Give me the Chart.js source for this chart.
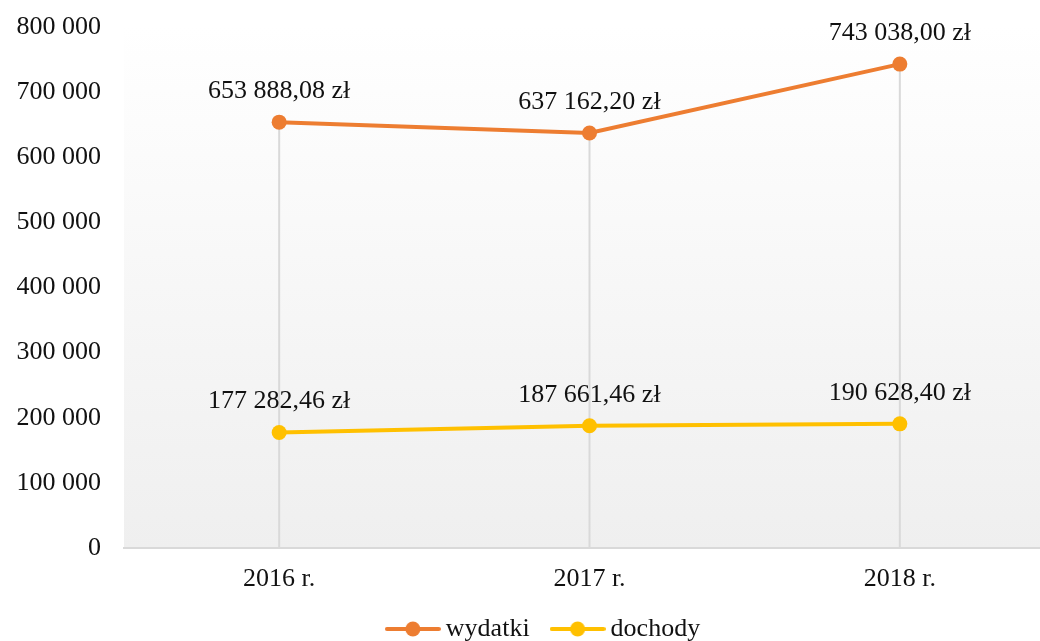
<!DOCTYPE html>
<html>
<head>
<meta charset="utf-8">
<script src="https://cdn.jsdelivr.net/npm/chart.js@4/dist/chart.umd.min.js"></script>
<style>
    html, body { margin: 0; padding: 0; overflow: hidden; background: #fff; }
    #wrap { width: 1086px; height: 652px; }
</style>
</head>
<body>
<div id="wrap"><canvas id="lineChart" width="1086" height="652"></canvas></div>
<script>
const years = ['2016 r.', '2017 r.', '2018 r.'];
const wydatki = [653888.08, 637162.20, 743038.00];
const dochody = [177282.46, 187661.46, 190628.40];
const yTicks = [0, 100000, 200000, 300000, 400000, 500000, 600000, 700000, 800000];

const orange = '#ED7D31';
const yellow = '#FFC000';
const fontFamily = "'Liberation Serif', 'Times New Roman', serif";

function groupThousands(n) {
    return String(n).replace(/\B(?=(\d{3})+(?!\d))/g, ' ');
}

function formatZl(v) {
    const parts = v.toFixed(2).split('.');
    return groupThousands(parts[0]) + ',' + parts[1] + ' zł';
}

// legend marker: short line with a dot in the middle
function legendMarker(color) {
    const c = document.createElement('canvas');
    c.width = 56;
    c.height = 18;
    const g = c.getContext('2d');
    g.strokeStyle = color;
    g.lineWidth = 4;
    g.lineCap = 'round';
    g.beginPath();
    g.moveTo(2, 9);
    g.lineTo(54, 9);
    g.stroke();
    g.fillStyle = color;
    g.beginPath();
    g.arc(28, 9, 7.5, 0, Math.PI * 2);
    g.fill();
    return c;
}

const markers = [legendMarker(orange), legendMarker(yellow)];

const plotBackground = {
    id: 'plotBackground',
    beforeDraw(chart) {
        const { ctx, chartArea } = chart;
        const grad = ctx.createLinearGradient(0, chartArea.top, 0, chartArea.bottom);
        grad.addColorStop(0, '#ffffff');
        grad.addColorStop(0.12, '#fdfdfd');
        grad.addColorStop(1, '#efefef');
        ctx.save();
        ctx.fillStyle = grad;
        ctx.fillRect(chartArea.left, chartArea.top, chartArea.right - chartArea.left, chartArea.bottom - chartArea.top);
        ctx.restore();
    }
};

// the legend sits a bit right of the canvas centre in the original
const legendShift = {
    id: 'legendShift',
    afterLayout(chart) {
        chart.legend.left += 19;
        chart.legend.right += 19;
    }
};

// drop lines from the highest point of each category down to the axis
const dropLines = {
    id: 'dropLines',
    beforeDatasetsDraw(chart) {
        const { ctx, scales } = chart;
        ctx.save();
        ctx.strokeStyle = '#d9d9d9';
        ctx.lineWidth = 2;
        years.forEach((y, i) => {
            const top = Math.max(wydatki[i], dochody[i]);
            const x = scales.x.getPixelForValue(i);
            ctx.beginPath();
            ctx.moveTo(x, scales.y.getPixelForValue(top));
            ctx.lineTo(x, scales.y.getPixelForValue(0));
            ctx.stroke();
        });
        ctx.restore();
    }
};

const valueLabels = {
    id: 'valueLabels',
    afterDatasetsDraw(chart) {
        const ctx = chart.ctx;
        ctx.save();
        ctx.font = '26px ' + fontFamily;
        ctx.fillStyle = '#111111';
        ctx.textAlign = 'center';
        ctx.textBaseline = 'middle';
        chart.data.datasets.forEach((ds, i) => {
            chart.getDatasetMeta(i).data.forEach((pt, j) => {
                ctx.fillText(formatZl(ds.data[j]), pt.x, pt.y - 31);
            });
        });
        ctx.restore();
    }
};

const ctx = document.getElementById('lineChart').getContext('2d');
const lineChart = new Chart(ctx, {
    type: 'line',
    data: {
        labels: years,
        datasets: [{
            label: 'wydatki',
            data: wydatki,
            borderColor: orange,
            backgroundColor: orange,
            borderWidth: 4,
            pointRadius: 7.5,
            pointHoverRadius: 7.5,
            pointBorderWidth: 0,
            tension: 0
        }, {
            label: 'dochody',
            data: dochody,
            borderColor: yellow,
            backgroundColor: yellow,
            borderWidth: 4,
            pointRadius: 7.5,
            pointHoverRadius: 7.5,
            pointBorderWidth: 0,
            tension: 0
        }]
    },
    options: {
        responsive: false,
        animation: false,
        layout: {
            padding: { top: 27, right: 31, left: 0, bottom: 0 }
        },
        scales: {
            x: {
                offset: true,
                grid: { display: false, drawTicks: false },
                border: { color: '#d9d9d9', width: 2 },
                afterFit(scale) {
                    scale.height = 40;
                },
                ticks: {
                    color: '#111111',
                    font: { family: fontFamily, size: 26 },
                    padding: 16
                }
            },
            y: {
                min: 0,
                max: 800000,
                afterBuildTicks(scale) {
                    scale.ticks = yTicks.map(v => ({ value: v }));
                },
                afterFit(scale) {
                    scale.width = 124;
                    scale.paddingTop = 0;
                    scale.paddingBottom = 0;
                },
                grid: { display: false, drawTicks: false },
                border: { display: false },
                ticks: {
                    color: '#111111',
                    font: { family: fontFamily, size: 26 },
                    padding: 23,
                    callback: v => groupThousands(v)
                }
            }
        },
        plugins: {
            legend: {
                position: 'bottom',
                onClick: null,
                labels: {
                    color: '#111111',
                    font: { family: fontFamily, size: 26 },
                    usePointStyle: true,
                    pointStyleWidth: 40,
                    padding: 28,
                    generateLabels(chart) {
                        const items = Chart.defaults.plugins.legend.labels.generateLabels(chart);
                        items.forEach((item, i) => { item.pointStyle = markers[i]; });
                        return items;
                    }
                }
            },
            tooltip: { enabled: false }
        }
    },
    plugins: [plotBackground, legendShift, dropLines, valueLabels]
});
</script>
</body>
</html>
